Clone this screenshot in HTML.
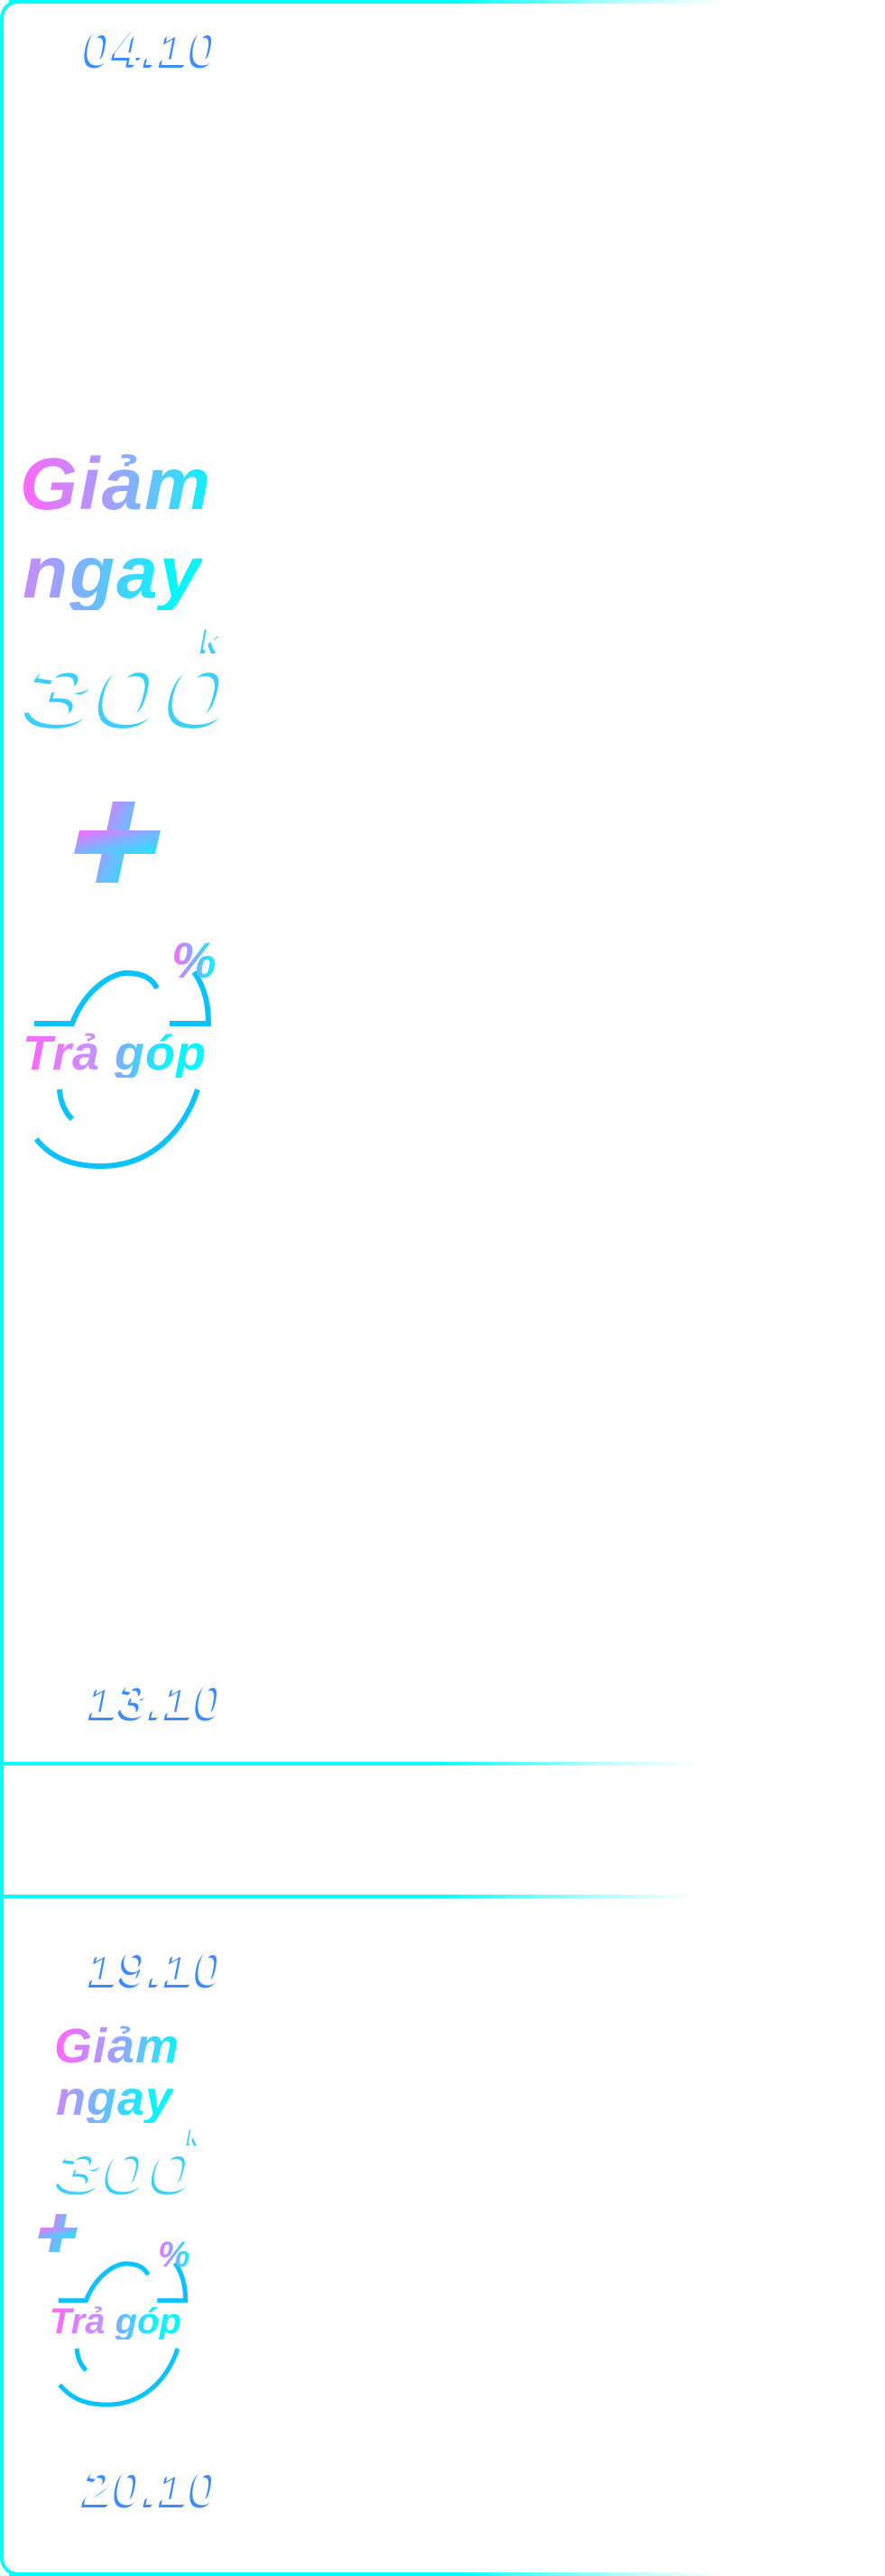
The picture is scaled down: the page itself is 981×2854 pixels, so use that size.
<!DOCTYPE html>
<html><head><meta charset="utf-8">
<style>
html,body{margin:0;padding:0;background:#fff;}
body{width:981px;height:2854px;position:relative;overflow:hidden;font-family:"Liberation Sans","Noto Sans CJK JP",sans-serif;}
.abs{position:absolute;white-space:nowrap;}
.frame-left{left:0;top:0;width:20px;height:2854px;border-left:4px solid #0ff;border-top:4px solid #0ff;border-bottom:4px solid #0ff;border-radius:22px 0 0 22px;box-sizing:border-box;}
.hline{height:4px;background:linear-gradient(90deg,#00ffff 0%,#00ffff 55%,rgba(0,255,255,0.3) 75%,rgba(0,255,255,0) 88%);}
.date{font-weight:bold;font-style:italic;color:#fff;font-size:56px;line-height:1;letter-spacing:2px;
 text-shadow:-2px 2px 0 #3d8cff,-1px 1px 0 #3d8cff,-3px 3px 0 #3d8cff;}
.grad{font-weight:bold;font-style:italic;line-height:1;-webkit-background-clip:text;background-clip:text;color:transparent;
 background-image:linear-gradient(90deg,#ff66ff 0%,#a99cff 45%,#0af4fb 100%);}
.num{font-weight:bold;font-style:italic;color:#fff;line-height:1;text-shadow:-3px 4px 0 #3dcffb;transform-origin:left top;}
</style></head>
<body>
<div class="abs frame-left"></div>
<div class="abs hline" style="left:10px;top:0;width:900px;"></div>
<div class="abs hline" style="left:10px;top:2850px;width:900px;"></div>
<div class="abs hline" style="left:0;top:1952px;width:880px;"></div>
<div class="abs hline" style="left:0;top:2099px;width:880px;"></div>

<div class="abs date" style="left:94px;top:25px;">04.10</div>

<div class="abs grad" style="left:22px;top:496px;font-size:82px;letter-spacing:2px;">Giảm</div>
<div class="abs grad" style="left:25px;top:594px;font-size:82px;letter-spacing:2px;background-image:linear-gradient(90deg,#c98aff 0%,#5fc2ff 45%,#0af4fb 80%);">ngay</div>
<div class="abs num" style="left:30px;top:722px;font-size:96px;transform:scaleX(1.45);font-weight:900;">300</div>
<div class="abs num" style="left:224px;top:690px;font-size:36px;">k</div>

<svg class="abs" style="left:0;top:0;" width="981" height="2854">
 <defs>
  <linearGradient id="pg" x1="0" y1="0" x2="1" y2="1">
   <stop offset="0" stop-color="#ff66ff"/><stop offset="0.55" stop-color="#6fbaff"/><stop offset="1" stop-color="#1ee8fb"/>
  </linearGradient>
 </defs>
 <g fill="url(#pg)">
  <polygon points="125,888 150,888 131,978 106,978"/>
  <polygon points="88,920 178,920 172,946 82,946"/>
 </g>
 <g fill="url(#pg)">
  <polygon points="62,2453 74,2453 66,2495 54,2495"/>
  <polygon points="45,2468 86,2468 83,2480 42,2480"/>
 </g>
 <g fill="none" stroke="#0bc3fb" stroke-width="6">
  <path d="M38,1134 L80,1134 C95,1095 125,1078 140,1078 C155,1078 168,1082 174,1095"/>
  <path d="M215,1077 C228,1095 231,1115 231,1134 L188,1134"/>
  <path d="M219,1207 C205,1250 170,1292 112,1292 C75,1292 55,1280 40,1262"/>
  <path d="M66,1207 C67,1222 72,1232 80,1240"/>
 </g>
 <g transform="translate(37,1721) scale(0.73)" fill="none" stroke="#0bc3fb" stroke-width="7">
  <path d="M38,1134 L80,1134 C95,1095 125,1078 140,1078 C155,1078 168,1082 174,1095"/>
  <path d="M215,1077 C228,1095 231,1115 231,1134 L188,1134"/>
  <path d="M219,1207 C205,1250 170,1292 112,1292 C75,1292 55,1280 40,1262"/>
  <path d="M66,1207 C67,1222 72,1232 80,1240"/>
 </g>
</svg>

<div class="abs grad" style="left:190px;top:1036px;font-size:56px;background-image:linear-gradient(90deg,#ff66ff,#0af4fb);">%</div>
<div class="abs grad" style="left:25px;top:1140px;font-size:54px;letter-spacing:1px;background-image:linear-gradient(90deg,#ff66ff 0%,#c890ff 38%,#6cb8ff 55%,#0af4fb 80%);">Trả góp</div>

<div class="abs date" style="left:100px;top:1856px;">13.10</div>
<div class="abs date" style="left:100px;top:2152px;">19.10</div>

<div class="abs grad" style="left:60px;top:2240px;font-size:54px;letter-spacing:1px;">Giảm</div>
<div class="abs grad" style="left:62px;top:2298px;font-size:54px;letter-spacing:1px;background-image:linear-gradient(90deg,#c98aff 0%,#5fc2ff 45%,#0af4fb 80%);">ngay</div>
<div class="abs num" style="left:64px;top:2372px;font-size:66px;transform:scaleX(1.4);text-shadow:-2px 3px 0 #3dcffb;">300</div>
<div class="abs num" style="left:208px;top:2356px;font-size:24px;text-shadow:-2px 2px 0 #3dcffb;">k</div>
<div class="abs grad" style="left:175px;top:2478px;font-size:40px;background-image:linear-gradient(90deg,#ff66ff,#0af4fb);">%</div>
<div class="abs grad" style="left:55px;top:2552px;font-size:40px;background-image:linear-gradient(90deg,#ff66ff 0%,#c890ff 38%,#6cb8ff 55%,#0af4fb 80%);">Trả góp</div>

<div class="abs date" style="left:94px;top:2728px;">20.10</div>
</body></html>
